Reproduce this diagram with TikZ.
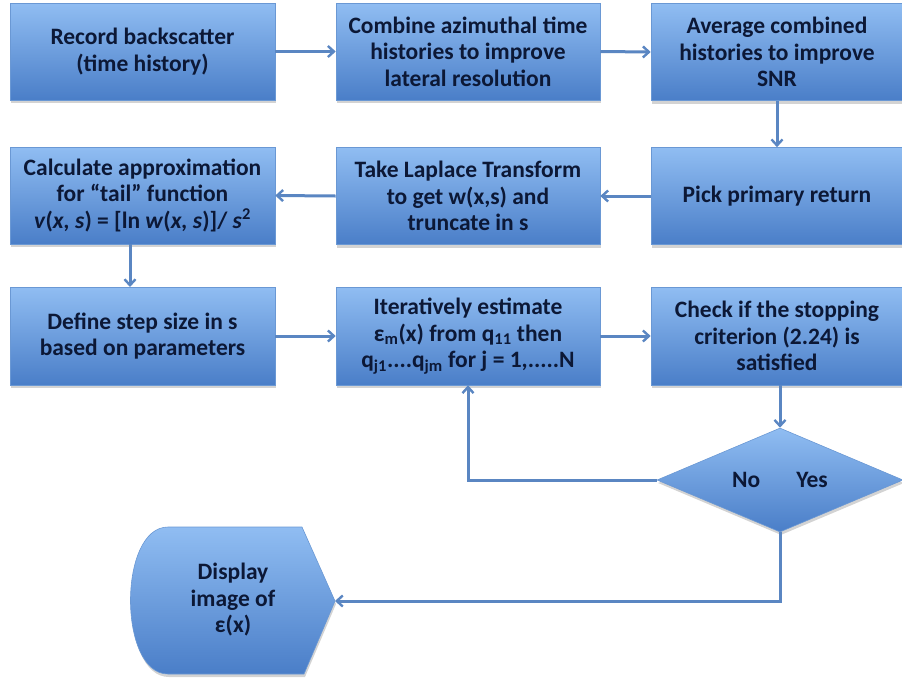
\documentclass[tikz,border=0pt]{standalone}
\usepackage{fontspec}
\setmainfont{Carlito}
\usetikzlibrary{arrows.meta,shapes.geometric,shadows}
\definecolor{boxtop}{HTML}{90BDF2}
\definecolor{boxbot}{HTML}{4A7EC8}
\definecolor{boxline}{HTML}{6A98D4}
\definecolor{txt}{HTML}{0C1836}
\definecolor{conn}{HTML}{5A86C2}
\tikzset{
  boxfont/.style={font=\fontsize{23.5}{26.5}\selectfont\bfseries},
  box/.style={rectangle, draw=boxline, line width=0.6pt, top color=boxtop, bottom color=boxbot,
    text=txt, boxfont, align=center, inner sep=1pt,
    drop shadow={opacity=0.35, shadow xshift=1pt, shadow yshift=-3pt}},
  conn/.style={draw=conn, line width=3pt, -{Straight Barb[length=6pt,width=11pt,line width=2.4pt]}},
}
\begin{document}
\begin{tikzpicture}[x=1pt,y=-1pt]
\useasboundingbox (0,0) rectangle (902,681);
% row 1
\node[box, minimum width=265pt, minimum height=97pt] (b1) at (142.5,51.5) {Record backscatter\\(time history)};
\node[box, minimum width=264pt, minimum height=97pt] (b2) at (468,51.5) {Combine azimuthal time\\histories to improve\\lateral resolution};
\node[box, minimum width=252pt, minimum height=97pt] (b3) at (777,52) {Average combined\\histories to improve\\SNR};
% row 2
\node[box, minimum width=265pt, minimum height=97pt] (c1) at (142.5,195.5) {Calculate approximation\\for “tail” function\\\textit{v}(\textit{x, s}) = [ln \textit{w}(\textit{x, s})]/ \textit{s}\textsuperscript{2}};
\node[box, minimum width=264pt, minimum height=97pt] (c2) at (468,196) {Take Laplace Transform\\to get w(x,s) and\\truncate in s};
\node[box, minimum width=252pt, minimum height=97pt] (c3) at (777,196) {Pick primary return};
% row 3
\node[box, minimum width=265pt, minimum height=98pt] (d1) at (142.5,336) {Define step size in s\\based on parameters};
\node[box, minimum width=264pt, minimum height=98pt] (d2) at (468,336) {Iteratively estimate\\ε\textsubscript{m}(x) from q\textsubscript{11} then\\q\textsubscript{j1}....q\textsubscript{jm} for j = 1,.....N};
\node[box, minimum width=252pt, minimum height=98pt] (d3) at (777,336) {Check if the stopping\\criterion (2.24) is\\satisfied};
% decision
\node[diamond, draw=boxline, line width=0.6pt, top color=boxtop, bottom color=boxbot,
  minimum width=246pt, minimum height=104pt, aspect=2.37, inner sep=0pt,
  text=txt, boxfont,
  drop shadow={opacity=0.35, shadow xshift=1pt, shadow yshift=-3pt}] (dec) at (780,480) {No\hspace{36pt}Yes};
% display
\path[draw=boxline, line width=0.6pt, top color=boxtop, bottom color=boxbot,
  drop shadow={opacity=0.35, shadow xshift=1pt, shadow yshift=-3pt}]
  (168,527) -- (302,527) -- (335,601) -- (304,674) -- (168,674)
  .. controls (118,674) and (118,527) .. (168,527) -- cycle;
\coordinate (disptip) at (335,601);
\node[text=txt, boxfont, align=center] (disp) at (233,600) {Display\\image of\\ε(x)};
% connectors
\coordinate (c1out) at (130,244);
\coordinate (d1in) at (130,287);
\draw[conn] (b1.east) -- (b2.west);
\draw[conn] (b2.east) -- (b3.west);
\draw[conn] (b3.south) -- (c3.north);
\draw[conn] (c3.west) -- (c2.east);
\draw[conn] (c2.west) -- (c1.east);
\draw[conn] (c1out) -- (d1in);
\draw[conn] (d1.east) -- (d2.west);
\draw[conn] (d2.east) -- (d3.west);
\draw[conn] (d3.south -| dec.north) -- (dec.north);
\coordinate (loop) at (468,480);
\draw[conn] (dec.west) -- (loop) -- (d2.south);
\coordinate (down) at (780,601);
\draw[conn] (dec.south) -- (down) -- (disptip);
\end{tikzpicture}
\end{document}
